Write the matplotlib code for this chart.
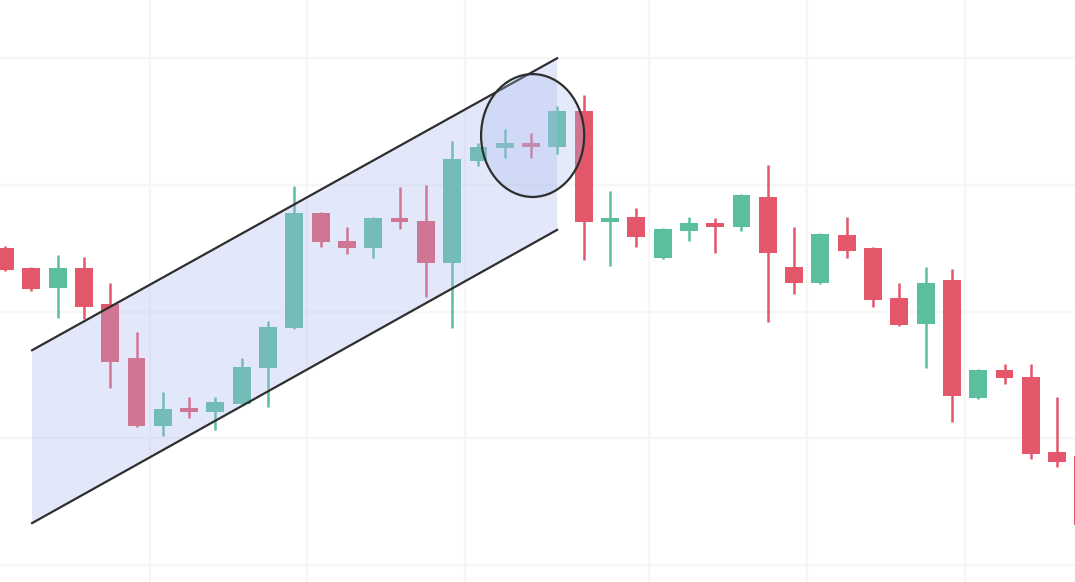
import numpy as np
import matplotlib.pyplot as plt
from matplotlib.patches import Ellipse, Polygon

# candle data (price units), one entry per bar
opens = [105.00, 104.69, 104.37, 104.69, 104.12, 103.27, 102.19, 102.45, 102.42, 102.54,
         103.11, 103.74, 105.56, 105.11, 105.00, 105.48, 105.43, 104.77, 106.38, 106.58,
         106.66, 106.60, 107.17, 105.41, 105.49, 104.85, 105.27, 105.38, 105.34, 105.81,
         104.70, 104.45, 105.21, 105.00, 104.21, 103.80, 104.50, 102.64, 103.08, 102.97,
         101.78, 101.72]
highs = [105.04, 104.70, 104.89, 104.86, 104.45, 103.68, 102.73, 102.65, 102.65, 103.27,
         103.85, 105.98, 105.57, 105.34, 105.49, 105.97, 106.00, 106.69, 106.66, 106.88,
         106.82, 107.25, 107.42, 105.90, 105.64, 105.32, 105.49, 105.48, 105.86, 106.31,
         105.34, 105.24, 105.49, 105.02, 104.45, 104.70, 104.67, 103.09, 103.17, 103.17,
         102.65, 101.97]
lows = [104.64, 104.33, 103.90, 103.88, 102.79, 102.18, 102.04, 102.32, 102.13, 102.53,
        102.49, 103.73, 105.02, 104.91, 104.85, 105.30, 104.23, 103.74, 106.30, 106.42,
        106.42, 106.49, 104.81, 104.72, 105.02, 104.83, 105.11, 104.92, 105.27, 103.84,
        104.28, 104.44, 104.85, 104.07, 103.77, 103.11, 102.26, 102.62, 102.86, 101.67,
        101.55, 100.55]
closes = [104.66, 104.36, 104.69, 104.07, 103.20, 102.19, 102.46, 102.42, 102.57, 103.13,
          103.76, 105.56, 105.10, 105.00, 105.48, 105.41, 104.77, 106.41, 106.60, 106.66,
          106.60, 107.17, 105.41, 105.48, 105.18, 105.30, 105.40, 105.34, 105.84, 104.92,
          104.45, 105.22, 104.96, 104.18, 103.79, 104.45, 102.67, 103.08, 102.95, 101.75,
          101.63, 100.63]

# parallel channel and highlight ellipse
channel_x = [1.03, 20.99]
channel_upper = [103.39, 108.00]
channel_lower = [100.66, 105.29]
ellipse_center = (20.06, 106.78)
ellipse_size = (3.92, 1.94)

x_grid = [5.5, 11.5, 17.5, 24.5, 30.5, 36.5]
y_grid = [100, 102, 104, 106, 108]

green = "#5bbf9e"
red = "#e4566a"

o = np.array(opens)
c = np.array(closes)
x = np.arange(len(o))
up = c >= o
colors = np.where(up, green, red)

fig = plt.figure(figsize=(10.75, 5.82), dpi=100)
ax = fig.add_axes([0, 0, 1, 1])

ax.vlines(x, lows, highs, colors=colors, linewidth=1.8, zorder=2)
body_bottom = np.minimum(o, c)
body_height = np.maximum(np.abs(c - o), 0.06)
ax.bar(x, body_height, bottom=body_bottom, width=0.68, color=colors, zorder=2)

# channel fill drawn over the candles
poly = Polygon([(channel_x[0], channel_lower[0]), (channel_x[0], channel_upper[0]),
                (channel_x[1], channel_upper[1]), (channel_x[1], channel_lower[1])],
               closed=True, facecolor="#a9b8ee", alpha=0.33, edgecolor="none", zorder=3)
ax.add_patch(poly)
ax.plot(channel_x, channel_upper, color="#2e2e2e", linewidth=1.6, zorder=4)
ax.plot(channel_x, channel_lower, color="#2e2e2e", linewidth=1.6, zorder=4)

ell = Ellipse(ellipse_center, ellipse_size[0], ellipse_size[1],
              facecolor=(0.66, 0.73, 0.93, 0.3), edgecolor="#2e2e2e", linewidth=1.6, zorder=5)
ax.add_patch(ell)

ax.set_xlim(-0.19, 40.68)
ax.set_ylim(99.73, 108.92)
ax.set_xticks(x_grid)
ax.set_yticks(y_grid)
ax.grid(True, color="#f6f6f6", linewidth=1.5, zorder=0)
ax.set_axisbelow(True)
ax.tick_params(length=0, labelbottom=False, labelleft=False)
for s in ax.spines.values():
    s.set_visible(False)

fig.savefig("out.png", dpi=100)
